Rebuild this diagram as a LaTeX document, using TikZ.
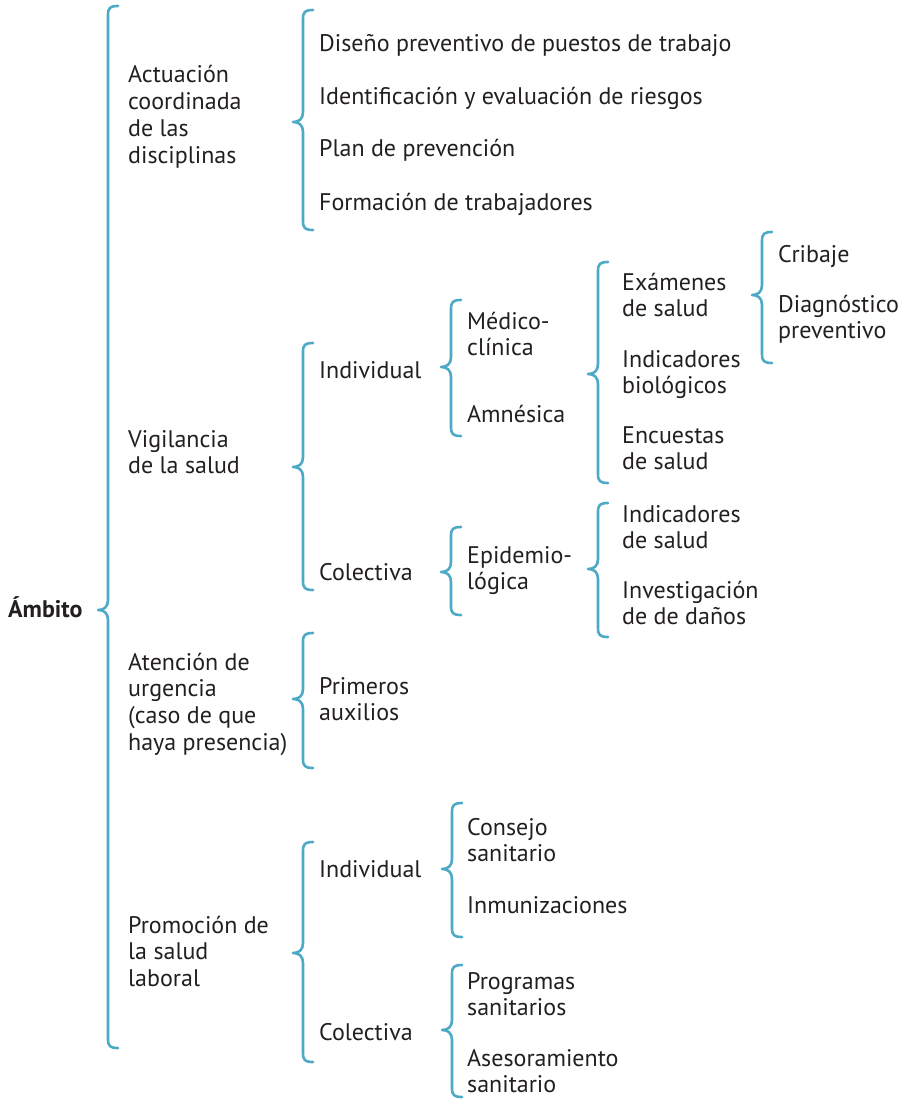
\documentclass[tikz,border=0pt]{standalone}
\usepackage{fontspec}
\setmainfont{PT Sans}
\usetikzlibrary{calc}
\definecolor{brcblue}{RGB}{76,170,198}
\definecolor{txt}{RGB}{35,31,32}
\newcommand\Brc[4]{% x, top, cusp, bottom
  \draw[brc] ({#1+10},#2) .. controls ({#1+2},#2) and (#1,{#2+2}) .. (#1,{#2+9})
    -- (#1,{#3-10}) .. controls (#1,{#3-3}) and ({#1-4},#3) .. ({#1-10},#3)
    .. controls ({#1-4},#3) and (#1,{#3+3}) .. (#1,{#3+10})
    -- (#1,{#4-9}) .. controls (#1,{#4-2}) and ({#1+2},#4) .. ({#1+10},#4);}
\newcommand\ML[1]{\begin{tabular}[t]{@{}l@{}}#1\end{tabular}}
\begin{document}
\begin{tikzpicture}[x=1pt,y=-1pt,
  brc/.style={draw=brcblue,line width=2.6pt,line cap=round,line join=round},
  lbl/.style={anchor=base west,inner sep=0pt,text=txt,font=\fontsize{24}{26.7}\selectfont},
  root/.style={lbl,font=\fontsize{24}{26.7}\selectfont\bfseries}]
\useasboundingbox (0,0) rectangle (903,1099);
\renewcommand\arraystretch{1}
% braces
\Brc{108}{6}{610}{1048}
\Brc{303}{10}{122}{230}
\Brc{303}{343}{467}{590}
\Brc{303}{633}{699}{768}
\Brc{303}{842}{953}{1062}
\Brc{451}{300}{367}{436}
\Brc{451}{527}{572}{615}
\Brc{452}{803}{869}{937}
\Brc{452}{965}{1030}{1097}
\Brc{598}{262}{374}{483}
\Brc{598}{503}{569}{637}
\Brc{762}{232}{295}{363}
% texts
\node[root] (ambito) at (8,617) {Ámbito};
\node[lbl] (actuacion) at (128,83) {\ML{Actuación\\coordinada\\de las\\disciplinas}};
\node[lbl] (vigilancia) at (128,447) {\ML{Vigilancia\\de la salud}};
\node[lbl] (atencion) at (128,670) {\ML{Atención de\\urgencia\\(caso de que\\haya presencia)}};
\node[lbl] (promocion) at (128,933) {\ML{Promoción de\\la salud\\laboral}};
\node[lbl] (diseno) at (319,52) {Diseño preventivo de puestos de trabajo};
\node[lbl] (identif) at (319,105) {Identificación y evaluación de riesgos};
\node[lbl] (plan) at (319,157) {Plan de prevención};
\node[lbl] (formacion) at (319,211) {Formación de trabajadores};
\node[lbl] (vind) at (319,378) {Individual};
\node[lbl] (vcol) at (319,580) {Colectiva};
\node[lbl] (primeros) at (319,694) {\ML{Primeros\\auxilios}};
\node[lbl] (pind) at (319,877) {Individual};
\node[lbl] (pcol) at (319,1040) {Colectiva};
\node[lbl] (medico) at (467,329) {\ML{Médico-\\clínica}};
\node[lbl] (amnesica) at (467,422) {Amnésica};
\node[lbl] (epidemio) at (467,563) {\ML{Epidemio-\\lógica}};
\node[lbl] (consejo) at (467,835) {\ML{Consejo\\sanitario}};
\node[lbl] (inmun) at (467,913) {Inmunizaciones};
\node[lbl] (programas) at (467,989) {\ML{Programas\\sanitarios}};
\node[lbl] (asesor) at (467,1066) {\ML{Asesoramiento\\sanitario}};
\node[lbl] (examenes) at (622,290) {\ML{Exámenes\\de salud}};
\node[lbl] (indbio) at (622,367) {\ML{Indicadores\\biológicos}};
\node[lbl] (encuestas) at (622,443) {\ML{Encuestas\\de salud}};
\node[lbl] (indsal) at (622,522) {\ML{Indicadores\\de salud}};
\node[lbl] (investig) at (622,598) {\ML{Investigación\\de de daños}};
\node[lbl] (cribaje) at (778,262) {Cribaje};
\node[lbl] (diagn) at (778,312) {\ML{Diagnóstico\\preventivo}};
\end{tikzpicture}
\end{document}
